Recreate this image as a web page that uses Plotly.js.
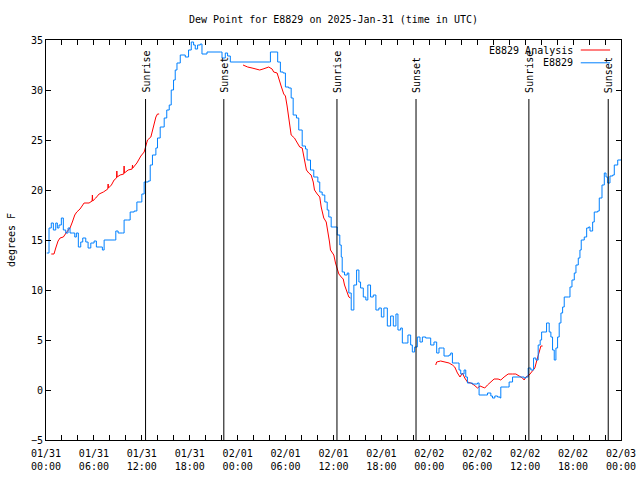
<!DOCTYPE html>
<html>
<head>
<meta charset="utf-8">
<script src="https://cdn.plot.ly/plotly-3.0.1.min.js"></script>
<style>html,body{margin:0;padding:0;background:#fff;}#chart{width:640px;height:480px;}</style>
</head>
<body>
<div id="chart"></div>
<script>
// Hours after 2025-01-31 00:00 UTC, and dew point (degrees F)
const dewHours = [0.09,0.38,0.66,0.92,1.22,1.42,1.63,1.92,2.17,2.47,2.76,3.01,3.30,3.60,3.80,4.05,4.35,4.60,4.98,5.27,5.61,6.02,6.31,6.65,7.06,7.28,8.53,8.74,9.03,9.57,9.78,10.20,10.54,11.04,11.38,11.79,12.00,12.29,12.80,13.05,13.33,13.76,13.96,14.30,14.80,15.12,15.43,15.68,15.97,16.18,16.40,16.81,17.44,17.85,18.19,18.48,18.69,18.98,19.32,19.53,20.16,21.83,22.04,22.45,22.74,23.08,28.01,28.10,28.94,29.01,29.35,29.69,29.98,30.39,30.70,30.95,31.36,31.65,32.08,32.49,32.70,33.12,33.53,34.04,34.28,34.58,34.91,35.21,35.41,35.71,36.04,36.47,36.79,36.97,37.09,37.38,37.72,37.92,38.22,38.55,38.89,39.18,39.39,39.73,40.05,40.30,40.64,40.98,41.31,41.68,41.99,42.31,42.74,43.15,43.49,43.82,44.07,44.41,44.62,44.91,45.32,45.66,45.87,46.16,46.50,46.83,47.13,47.54,48.17,48.58,48.92,49.21,49.64,49.84,50.47,50.68,50.89,51.52,51.72,51.93,52.35,52.56,52.77,53.40,54.03,54.23,55.07,55.28,55.70,55.91,56.20,56.54,56.86,56.95,57.79,57.99,58.42,59.87,60.09,60.38,60.71,61.05,61.34,61.63,61.88,62.06,62.38,62.68,63.01,63.22,63.43,63.64,63.85,64.06,64.26,64.48,64.69,64.89,65.44,65.61,65.86,66.15,66.36,66.65,66.86,67.02,67.40,67.70,67.95,68.12,68.45,68.65,69.08,69.28,69.62,69.91,70.12,70.33,70.62,70.96,71.16,71.59,72.00];
const dewValues = [13.7,16.2,16.7,16.0,16.7,16.2,16.5,17.2,16.0,15.7,16.2,15.7,15.7,15.3,15.7,14.3,14.8,15.2,14.8,14.2,14.7,14.9,14.3,14.3,14.0,15.0,15.0,15.9,15.7,15.7,17.0,17.0,17.8,17.9,18.8,18.8,19.6,20.8,20.9,22.5,23.5,24.2,25.2,26.3,27.2,28.0,28.5,30.0,31.0,32.0,32.7,33.5,33.3,34.0,34.8,34.5,34.1,34.5,34.6,33.6,33.8,33.8,33.2,33.7,33.4,32.8,32.8,33.8,33.8,32.8,31.8,31.7,30.3,30.2,29.2,27.5,27.2,26.0,24.4,24.1,23.0,22.0,21.3,20.8,19.8,19.5,18.8,18.0,17.3,16.3,16.3,15.5,14.5,13.3,11.8,11.5,11.7,9.7,8.0,10.5,12.0,10.8,10.2,9.3,9.0,10.5,9.3,9.5,8.0,8.2,7.3,8.2,6.4,7.4,6.4,7.6,6.0,6.2,4.7,4.7,5.5,4.5,3.8,4.3,5.3,4.8,5.3,5.2,4.5,4.8,3.7,4.2,4.2,3.4,3.5,3.7,2.7,2.7,2.0,1.6,2.0,1.3,0.7,0.6,0.7,-0.5,-0.5,-0.3,-0.6,-0.8,-0.6,-0.7,-0.8,0.3,0.3,0.8,1.3,1.2,1.3,2.2,2.0,3.2,3.0,4.5,5.0,5.8,5.8,6.7,5.8,5.3,4.0,3.0,4.2,5.3,6.7,7.7,8.3,9.3,9.3,10.3,11.0,11.7,12.5,13.2,14.0,15.0,15.3,16.2,16.3,15.9,16.8,17.8,17.9,19.2,20.5,21.7,21.3,20.7,21.4,21.5,22.5,23.0,23.0];

// Analysis series (null = gap)
const anaHours = [0.66,1.00,1.22,1.51,1.76,2.17,2.60,3.01,3.30,3.60,3.85,4.26,4.77,5.39,5.77,5.81,5.85,6.23,6.65,7.19,7.74,7.78,7.82,8.19,8.53,8.83,8.87,8.91,9.28,9.74,9.78,9.82,10.29,10.79,10.83,10.87,11.38,11.88,12.29,12.51,12.71,13.13,13.46,13.76,13.96,14.17,
  null,
  24.67,25.25,25.80,26.22,26.76,27.18,27.60,27.89,28.31,28.51,28.94,29.14,29.44,29.77,29.98,30.19,30.39,30.70,31.11,31.45,31.77,32.08,32.28,32.61,32.90,33.20,33.46,33.62,33.96,34.28,34.46,34.78,35.09,35.29,35.50,35.62,35.84,36.04,36.25,36.47,36.67,36.97,37.22,37.38,37.63,37.92,38.13,
  null,
  48.80,48.92,49.42,50.05,50.47,50.89,51.18,51.52,51.84,52.15,52.43,52.77,53.19,53.60,54.03,54.35,54.65,54.94,55.28,55.70,56.11,56.61,56.95,57.36,57.87,58.42,58.83,59.25,59.67,59.87,60.09,60.50,60.93,61.21,61.47,61.76,61.97,62.18];
const anaValues = [13.6,13.6,14.2,14.9,15.2,15.3,15.8,16.2,16.8,17.5,17.8,18.1,18.7,18.7,18.9,19.5,18.9,19.2,19.6,19.8,20.1,20.6,20.2,20.5,21.0,21.2,21.9,21.3,21.5,21.6,22.4,21.7,22.0,22.1,22.5,22.2,22.7,23.4,23.8,24.6,25.0,25.3,26.3,27.3,27.6,27.6,
  null,
  32.5,32.3,32.2,32.1,32.0,32.1,32.2,32.3,32.1,31.8,31.7,31.1,30.4,29.6,29.4,28.4,27.1,25.5,25.2,24.8,24.3,24.2,23.2,22.0,21.7,21.5,20.8,20.0,19.6,19.3,18.3,17.2,16.8,16.0,14.8,14.0,13.7,13.5,12.7,12.1,11.6,11.3,11.1,10.5,9.9,9.3,9.2,
  null,
  2.5,2.8,2.9,2.8,2.7,2.5,2.3,1.7,1.3,1.7,1.2,0.8,0.7,0.5,0.2,0.4,0.3,0.2,0.5,0.8,1.1,1.1,1.0,1.3,1.6,1.6,1.6,1.4,1.2,1.0,1.3,1.5,2.0,2.2,3.0,4.0,4.4,4.4];

const sunTimes = ['2025-01-31 12:28','2025-01-31 22:16','2025-02-01 12:26','2025-02-01 22:20','2025-02-02 12:28','2025-02-02 22:24'];
const sunLabels = ['Sunrise','Sunset','Sunrise','Sunset','Sunrise','Sunset'];

const seriesNames = ['E8829 Analysis','E8829'];
const seriesColors = ['#ff0000','#0080ff'];

const xRange = ['2025-01-31 00:00','2025-02-03 00:00'];
const dateTickFormat = '%m/%d';
const timeTickFormat = '%H:%M';

const t0 = Date.UTC(2025,0,31,0,0,0);
function toDate(h){
  if(h === null) return null;
  return new Date(t0 + h*3600000).toISOString().replace('T',' ').slice(0,19);
}

const FONT = 'DejaVu Sans Mono, monospace';
const TF = {family:FONT, size:10, color:'#000'};

const traces = [
  {x: anaHours.map(toDate), y: anaValues, type:'scatter', mode:'lines', name: seriesNames[0],
   line:{color: seriesColors[0], width:1}, connectgaps:false, showlegend:false, hoverinfo:'skip'},
  {x: dewHours.map(toDate), y: dewValues, type:'scatter', mode:'lines', name: seriesNames[1], xaxis:'x2', yaxis:'y',
   line:{color: seriesColors[1], width:1, shape:'hv'}, showlegend:false, hoverinfo:'skip'}
];

const shapes = [];
const annotations = [];
sunTimes.forEach((t,i)=>{
  shapes.push({type:'line', xref:'x', yref:'y', x0:t, x1:t, y0:-5, y1:29.1, line:{color:'#000', width:1}});
  annotations.push({text:sunLabels[i], x:t, y:29.6, xref:'x', yref:'y', textangle:-90,
    xanchor:'center', yanchor:'bottom', showarrow:false, borderpad:0, font:TF});
});
// gnuplot-style key: text, then line sample
const keyY = [0.975, 0.943];
seriesNames.forEach((n,i)=>{
  annotations.push({text:n, x:0.919, y:keyY[i], xref:'paper', yref:'paper', xanchor:'right', yanchor:'middle',
    showarrow:false, borderpad:0, font:TF});
  shapes.push({type:'line', xref:'paper', yref:'paper', x0:0.930, x1:0.981, y0:keyY[i], y1:keyY[i],
    line:{color:seriesColors[i], width:1}});
});

const layout = {
  width:640, height:480,
  margin:{l:46, r:19, t:40, b:40},
  paper_bgcolor:'#fff', plot_bgcolor:'#fff',
  font:TF,
  title:{text:'Dew Point for E8829 on 2025-Jan-31 (time in UTC)', font:TF,
    x:0.5, xref:'paper', y:1-19/480, yref:'container', yanchor:'middle'},
  showlegend:false,
  xaxis:{type:'date', range:xRange, tick0:xRange[0], dtick:6*3600000,
    tickformat:dateTickFormat, ticks:'inside', ticklen:5, tickcolor:'#000', tickwidth:1,
    showline:true, linecolor:'#000', linewidth:1, mirror:'ticks', showgrid:false, zeroline:false,
    minor:{dtick:2*3600000, tick0:xRange[0], ticks:'inside', ticklen:5, tickcolor:'#000', tickwidth:1, showgrid:false},
    tickfont:TF, ticklabelstandoff:4, fixedrange:true},
  xaxis2:{type:'date', range:xRange, tick0:xRange[0], dtick:6*3600000, overlaying:'x', anchor:'y', side:'bottom',
    tickformat:timeTickFormat, ticks:'', showline:false, showgrid:false, zeroline:false,
    tickfont:TF, ticklabelstandoff:19, fixedrange:true},
  yaxis:{range:[-5,35], dtick:5, tick0:0, ticks:'inside', ticklen:5, tickcolor:'#000', tickwidth:1,
    showline:true, linecolor:'#000', linewidth:1, mirror:'ticks', showgrid:false, zeroline:false,
    tickfont:TF,
    title:{text:'degrees F', font:TF, standoff:13}, fixedrange:true},
  shapes: shapes,
  annotations: annotations
};

Plotly.newPlot('chart', traces, layout, {staticPlot:true, displayModeBar:false});
</script>
</body>
</html>
